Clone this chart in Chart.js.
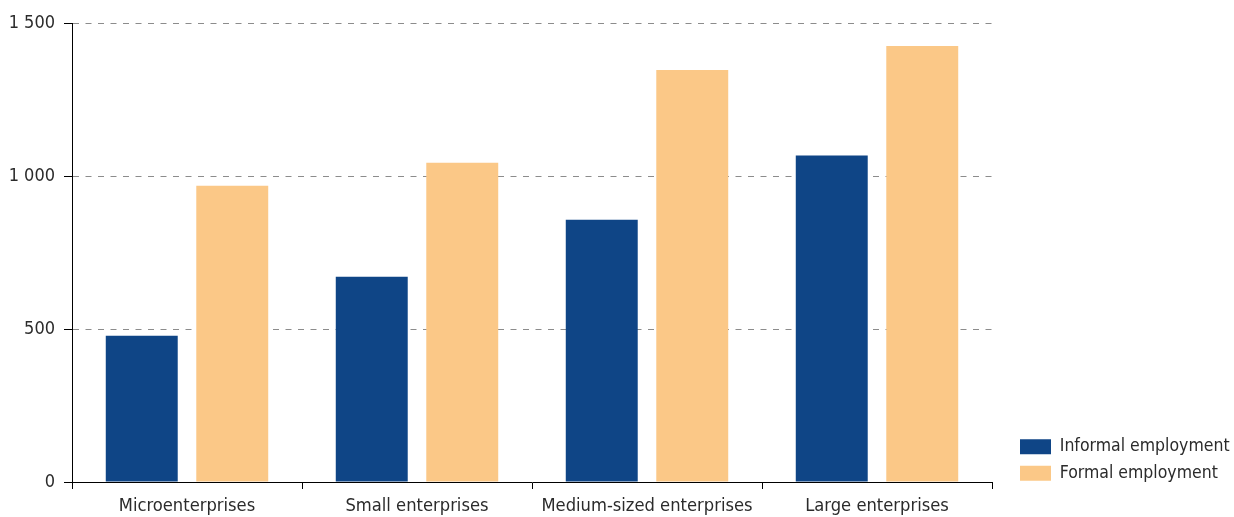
<!DOCTYPE html>
<html>
<head>
<meta charset="utf-8">
<script src="https://cdn.jsdelivr.net/npm/chart.js@4/dist/chart.umd.min.js"></script>
<style>
  html, body { margin: 0; padding: 0; background: #fff; }
  #wrap { position: relative; width: 1234px; height: 517px; }
</style>
</head>
<body>
<div id="wrap"><canvas id="c" width="1234" height="517"></canvas></div>
<script>
const categories = ['Microenterprises', 'Small enterprises', 'Medium-sized enterprises', 'Large enterprises'];
const seriesNames = ['Informal employment', 'Formal employment'];
const informalValues = [478, 671, 857, 1067];
const formalValues = [968, 1043, 1346, 1425];
const yTickValues = [0, 500, 1000, 1500];
const yTickLabels = ['0', '500', '1 000', '1 500'];

const FONT = "'Liberation Sans Narrow', 'DejaVu Sans Condensed', sans-serif";
const TEXT = '#2b2b2b';

const legendLayout = {
  id: 'legendLayout',
  beforeLayout(chart) {
    const lg = chart.legend;
    if (lg && !lg._fixedFit) {
      const f = lg.fit;
      lg.fit = function () { f.call(this); this.width = 242; };
      lg._fixedFit = true;
    }
  },
  afterLayout(chart) {
    const lg = chart.legend;
    if (!lg) return;
    const pad = lg.options.labels.padding;
    lg.left = 1020 - pad;
    lg.right = lg.left + lg.width;
    lg.top -= 26;
    lg.bottom -= 26;
  }
};

new Chart(document.getElementById('c'), {
  type: 'bar',
  data: {
    labels: categories,
    datasets: [
      { label: seriesNames[0], data: informalValues, backgroundColor: '#0f4586' },
      { label: seriesNames[1], data: formalValues, backgroundColor: '#fbc887' }
    ]
  },
  options: {
    responsive: false,
    animation: false,
    devicePixelRatio: 1,
    categoryPercentage: 0.787,
    barPercentage: 0.795,
    layout: { padding: { top: 23, left: 0, right: 0, bottom: 0 } },
    plugins: {
      tooltip: { enabled: false },
      legend: {
        position: 'right',
        align: 'end',
        labels: {
          boxWidth: 31,
          boxHeight: 15,
          padding: 9,
          color: TEXT,
          font: { family: FONT, size: 17.5 }
        }
      }
    },
    scales: {
      x: {
        offset: true,
        border: { display: true, color: '#000', width: 1 },
        grid: {
          offset: true,
          drawOnChartArea: false,
          drawTicks: true,
          tickLength: 7,
          tickColor: '#000'
        },
        ticks: { color: TEXT, font: { family: FONT, size: 18.2 }, padding: 6, maxRotation: 0, autoSkip: false },
        afterFit(s) { s.height = 35; }
      },
      y: {
        min: 0,
        max: 1500,
        border: { display: true, color: '#000', width: 1, dash: [6, 6.5] },
        grid: {
          color: (ctx) => ctx.tick && ctx.tick.value === 0 ? 'rgba(0,0,0,0)' : '#8c8c8c',
          tickBorderDash: [],
          tickColor: '#000',
          tickLength: 8,
          drawTicks: true
        },
        afterBuildTicks(s) { s.ticks = yTickValues.map(v => ({ value: v })); },
        ticks: {
          color: TEXT,
          font: { family: FONT, size: 18 },
          padding: 9,
          callback: (v) => yTickLabels[yTickValues.indexOf(v)]
        },
        afterFit(s) { s.width = 72; }
      }
    }
  },
  plugins: [legendLayout]
});
</script>
</body>
</html>
